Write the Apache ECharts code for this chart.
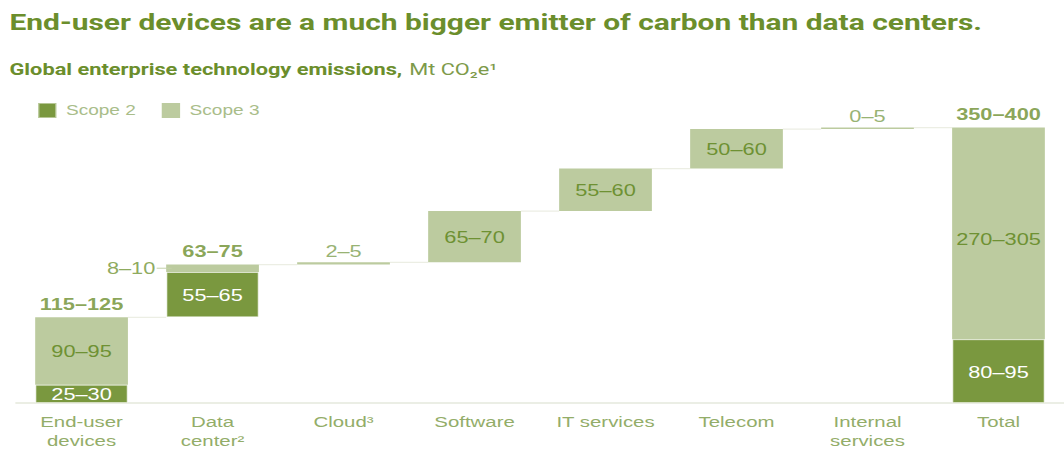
<!DOCTYPE html>
<html><head><meta charset="utf-8">
<script src="https://cdn.jsdelivr.net/npm/echarts@6/dist/echarts.min.js"></script>
<style>
html,body{margin:0;padding:0;background:#fff;overflow:hidden}
#wrap{width:1064px;height:450px;overflow:hidden}
#c{width:782px;height:450px;transform:scaleX(1.3606);transform-origin:0 0}
</style>
</head><body><div id="wrap"><div id="c"></div></div>
<script>
// ---- data ----
const categories = ['End-user\ndevices', 'Data\ncenter²', 'Cloud³', 'Software', 'IT services', 'Telecom', 'Internal\nservices', 'Total'];
const scope2Values = [25, 62, null, null, null, null, null];   // component categories (Total computed)
const scope3Values = [92, 10, 3, 70, 58, 54, 2];
const scope2Labels = ['25–30', '55–65', '', '', '', '', '', '80–95'];
const scope3Labels = ['90–95', '8–10', '2–5', '65–70', '55–60', '50–60', '0–5', '270–305'];
const totalLabels = ['115–125', '63–75', '', '', '', '', '', '350–400'];
const yTicks = [0, 400];

// ---- derived waterfall ----
const n = scope3Values.length;
const base = [], tops = [];
let cum = 0;
for (let i = 0; i < n; i++) {
  base.push(cum);
  cum += (scope2Values[i] || 0) + scope3Values[i];
  tops.push(cum);
}
const total2 = scope2Values.reduce((a, b) => a + (b || 0), 0);
const total3 = scope3Values.reduce((a, b) => a + b, 0);
const placeholder = base.concat([0]);
const s2 = scope2Values.map(v => v == null ? '-' : v).concat([total2]);
const s3 = scope3Values.concat([total3]);
const topVals = tops.concat([total2 + total3]);

const DARK = '#7a983f', LIGHT = '#bccb9f';
const TXT = '#6e9133', LBL = '#93ad69';
const FONT = 'Liberation Sans, Arial, sans-serif';
const TFONT = 'Roboto, Liberation Sans, sans-serif';
const BW = 0.708;

const s3Data = s3.map((v, i) => {
  const item = { value: v };
  const lab = scope3Labels[i];
  if (i === 1) {
    item.label = { show: true, position: 'left', distance: -4, formatter: '{t|' + lab + '}{l|}',
      rich: { t: { color: '#8fab5f', fontSize: 16, fontFamily: FONT, padding: [0, 1, 0, 0] },
              l: { width: 11, height: 1, backgroundColor: '#c3d1a9' } } };
  } else if (v < 6) {
    item.label = { show: true, position: 'top', distance: 3, color: '#98b374', fontSize: 16, formatter: lab };
  } else {
    item.label = { show: true, position: 'inside', color: TXT, fontSize: 16, formatter: lab,
      offset: i === n ? [0, 6] : [0, 1] };
  }
  return item;
});
const s2Data = s2.map((v, i) => ({ value: v, label: { show: !!scope2Labels[i], position: 'inside', color: '#fff', fontSize: 16, offset: [0, 1], formatter: scope2Labels[i] } }));

const chart = echarts.init(document.getElementById('c'), null, { renderer: 'svg' });
chart.setOption({
  backgroundColor: '#fff',
  animation: false,
  textStyle: { fontFamily: FONT },
  title: [
    { text: 'End-user devices are a much bigger emitter of carbon than data centers.', left: 2, top: 6,
      textStyle: { color: '#6b8e2c', fontSize: 22, fontWeight: 'bold', fontFamily: TFONT } },
    { text: '{b|Global enterprise technology emissions,} {r|Mt CO₂e¹}', left: 2, top: 56,
      textStyle: { fontWeight: 'normal', rich: {
        b: { color: '#6b8e2c', fontSize: 16, fontWeight: 'bold', fontFamily: TFONT },
        r: { color: '#7d9a4a', fontSize: 16, fontWeight: 'normal', fontFamily: TFONT } } } }
  ],
  legend: {
    data: ['Scope 2', 'Scope 3'], left: 22, top: 97, icon: 'rect', itemWidth: 13.5, itemHeight: 15, itemGap: 19,
    textStyle: { color: '#a9bd8a', fontSize: 14, padding: [0, 0, 0, 2], fontFamily: FONT }
  },
  grid: { left: 11.8, width: 772.5, top: 110, bottom: 44.5, containLabel: false },
  xAxis: {
    type: 'category', data: categories,
    axisLine: { lineStyle: { color: '#e5e9dc', width: 1.5 } }, axisTick: { show: false },
    axisLabel: { color: LBL, fontSize: 15, lineHeight: 19, margin: 9, interval: 0 }
  },
  yAxis: { type: 'value', min: yTicks[0], max: yTicks[1], show: false, splitLine: { show: false } },
  series: [
    { type: 'custom', name: 'connector', silent: true, z: 1,
      data: tops.map((v, i) => [i, v]),
      renderItem: (params, api) => {
        const i = api.value(0), v = api.value(1);
        const p1 = api.coord([i, v]), p2 = api.coord([i + 1, v]);
        const hw = api.size([1, 0])[0] * BW / 2;
        return { type: 'line', shape: { x1: p1[0] + hw, y1: p1[1], x2: p2[0] - hw, y2: p1[1] },
          style: { stroke: '#eceee4', lineWidth: 1.2 } };
      } },
    { type: 'bar', name: 'base', stack: 'w', data: placeholder, barWidth: (BW * 100) + '%', silent: true,
      itemStyle: { color: 'transparent' }, z: 2 },
    { type: 'bar', name: 'Scope 2', stack: 'w', data: s2Data, itemStyle: { color: DARK, borderColor: 'rgba(255,255,255,0.45)', borderWidth: 1 }, z: 2 },
    { type: 'bar', name: 'Scope 3', stack: 'w', data: s3Data, itemStyle: { color: LIGHT }, z: 2 },
    { type: 'scatter', name: 'totals', data: topVals, symbolSize: 0, silent: true, z: 3,
      label: { show: true, position: 'top', distance: 5, color: '#6b8e2c', fontSize: 16, fontWeight: 'bold',
        formatter: p => totalLabels[p.dataIndex] } }
  ]
});
</script></body></html>
